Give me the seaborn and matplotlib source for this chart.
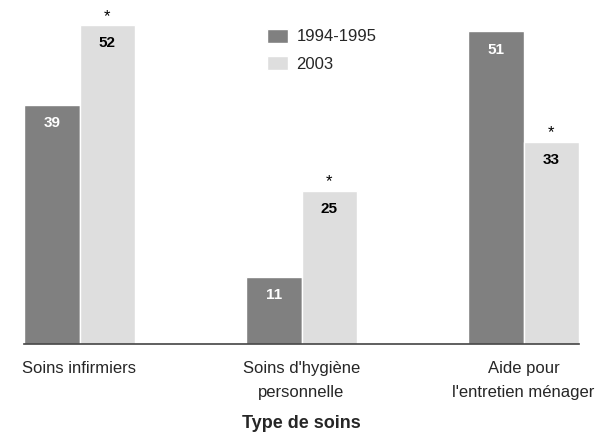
import matplotlib
matplotlib.use("Agg")
import matplotlib.pyplot as plt
import seaborn as sns
import pandas as pd

# Data
categories = ["Soins infirmiers", "Soins d'hygiène\npersonnelle", "Aide pour\nl'entretien ménager"]
periods = ["1994-1995", "2003"]
values_9495 = [39, 11, 51]
values_2003 = [52, 25, 33]
significant_2003 = [True, True, True]

df = pd.DataFrame({
    "type": categories * 2,
    "periode": [periods[0]] * 3 + [periods[1]] * 3,
    "pct": values_9495 + values_2003,
})

sns.set_style("white")
plt.rcParams["font.family"] = ["Liberation Sans", "DejaVu Sans"]

fig = plt.figure(figsize=(6, 4.37), dpi=100)
ax = fig.add_axes([0.04, 0.213, 0.925, 0.771])

sns.barplot(data=df, x="type", y="pct", hue="periode", order=categories,
            hue_order=periods, palette=["#808080", "#dedede"], width=0.5,
            saturation=1, ax=ax, legend=True)

ax.set_xlim(-0.25, 2.25)
ax.set_ylim(0, 55)

# value labels inside bars, asterisks over the 2003 bars
for cont, color, vals in zip(ax.containers, ["white", "black"], [values_9495, values_2003]):
    for bar, v in zip(cont, vals):
        x = bar.get_x() + bar.get_width() / 2
        ax.annotate(str(v), (x, bar.get_height()), xytext=(0, -13),
                    textcoords="offset points", ha="center", va="center",
                    fontsize=11, fontweight="bold", color=color)
for bar, sig in zip(ax.containers[1], significant_2003):
    if sig:
        x = bar.get_x() + bar.get_width() / 2
        ax.annotate("*", (x, bar.get_height()), xytext=(0, 1),
                    textcoords="offset points", ha="center", va="bottom",
                    fontsize=12, color="black")

for s in ["top", "right", "left"]:
    ax.spines[s].set_visible(False)
ax.spines["bottom"].set_color("#444444")
ax.spines["bottom"].set_linewidth(1.2)
ax.set_yticks([])
ax.set_ylabel("")
ax.tick_params(axis="x", length=0, pad=12, labelsize=12)
for lbl in ax.get_xticklabels():
    lbl.set_linespacing(1.8)
ax.set_xlabel("Type de soins", fontsize=13, fontweight="bold", labelpad=11)

leg = ax.legend(loc="upper left", bbox_to_anchor=(0.41, 0.98), frameon=False,
                fontsize=12, handlelength=1.3, handleheight=0.9, labelspacing=0.7,
                handletextpad=0.5)

fig.savefig("out.png", dpi=100)
